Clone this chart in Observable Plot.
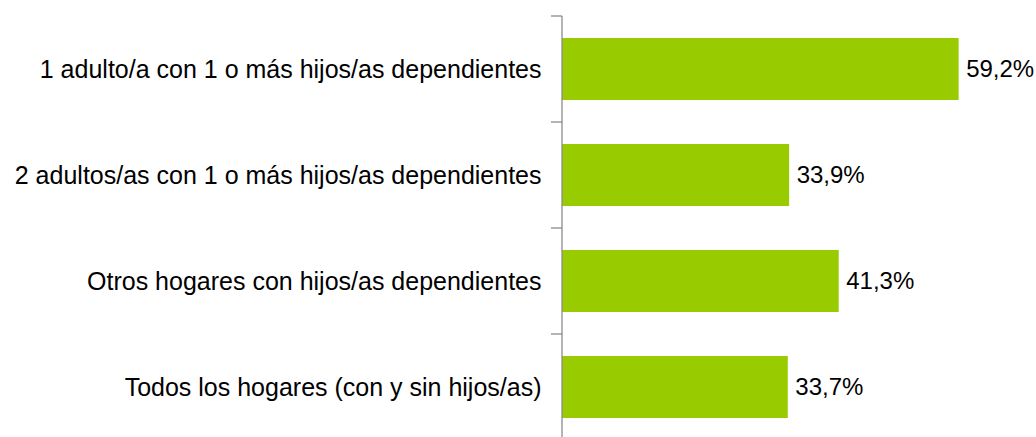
<!DOCTYPE html>
<html>
<head>
<meta charset="utf-8">
<script src="https://cdn.jsdelivr.net/npm/d3@7"></script>
<script src="https://cdn.jsdelivr.net/npm/@observablehq/plot@0.6"></script>
<style>
  html, body { margin: 0; padding: 0; background: #fff; }
  body { width: 1036px; height: 437px; overflow: hidden; }
</style>
</head>
<body>
<div id="chart"></div>
<script>
const categories = [
  "1 adulto/a con 1 o más hijos/as dependientes",
  "2 adultos/as con 1 o más hijos/as dependientes",
  "Otros hogares con hijos/as dependientes",
  "Todos los hogares (con y sin hijos/as)"
];
const values = [59.2, 33.9, 41.3, 33.7];
const valueLabels = ["59,2%", "33,9%", "41,3%", "33,7%"];

const data = categories.map((c, i) => ({cat: c, value: values[i], label: valueLabels[i]}));

const barColor = "#99CC00";
const axisColor = "#8c8c8c";
const fontFamily = "'Liberation Sans', Arial, sans-serif";
const pad = 0.414;

// custom mark: category boundary ticks and vertical axis line
function axisMark(index, scales, values, dimensions) {
  const y = scales.y, x = scales.x;
  const bw = typeof y.bandwidth === "function" ? y.bandwidth() : y.bandwidth;
  const step = y(categories[1]) - y(categories[0]);
  const x0 = x(0);
  const g = d3.create("svg:g");
  const edge = c => y(c) + bw / 2 - step / 2;
  g.append("line")
    .attr("x1", x0).attr("x2", x0)
    .attr("y1", edge(categories[0])).attr("y2", dimensions.height + 10)
    .attr("stroke", axisColor).attr("stroke-width", 1.3);
  categories.forEach(c => {
    const yy = edge(c);
    g.append("line")
      .attr("x1", x0 - 11).attr("x2", x0)
      .attr("y1", yy).attr("y2", yy)
      .attr("stroke", axisColor).attr("stroke-width", 1.3);
  });
  return g.node();
}

const chart = Plot.plot({
  width: 1036,
  height: 437,
  marginLeft: 562,
  marginRight: 5,
  marginTop: 15,
  marginBottom: -4.7,
  style: {fontFamily, background: "#fff", overflow: "hidden"},
  x: {domain: [0, 70], axis: null},
  y: {domain: categories, paddingInner: pad, paddingOuter: pad / 2, axis: null},
  marks: [
    Plot.barX(data, {y: "cat", x: "value", fill: barColor}),
    axisMark,
    Plot.text(data, {y: "cat", x: 0, text: "cat", textAnchor: "end", dx: -21, fontSize: 25, fill: "#000"}),
    Plot.text(data, {y: "cat", x: "value", text: "label", textAnchor: "start", dx: 7, fontSize: 24, fill: "#000"})
  ]
});
document.getElementById("chart").appendChild(chart);
</script>
</body>
</html>
